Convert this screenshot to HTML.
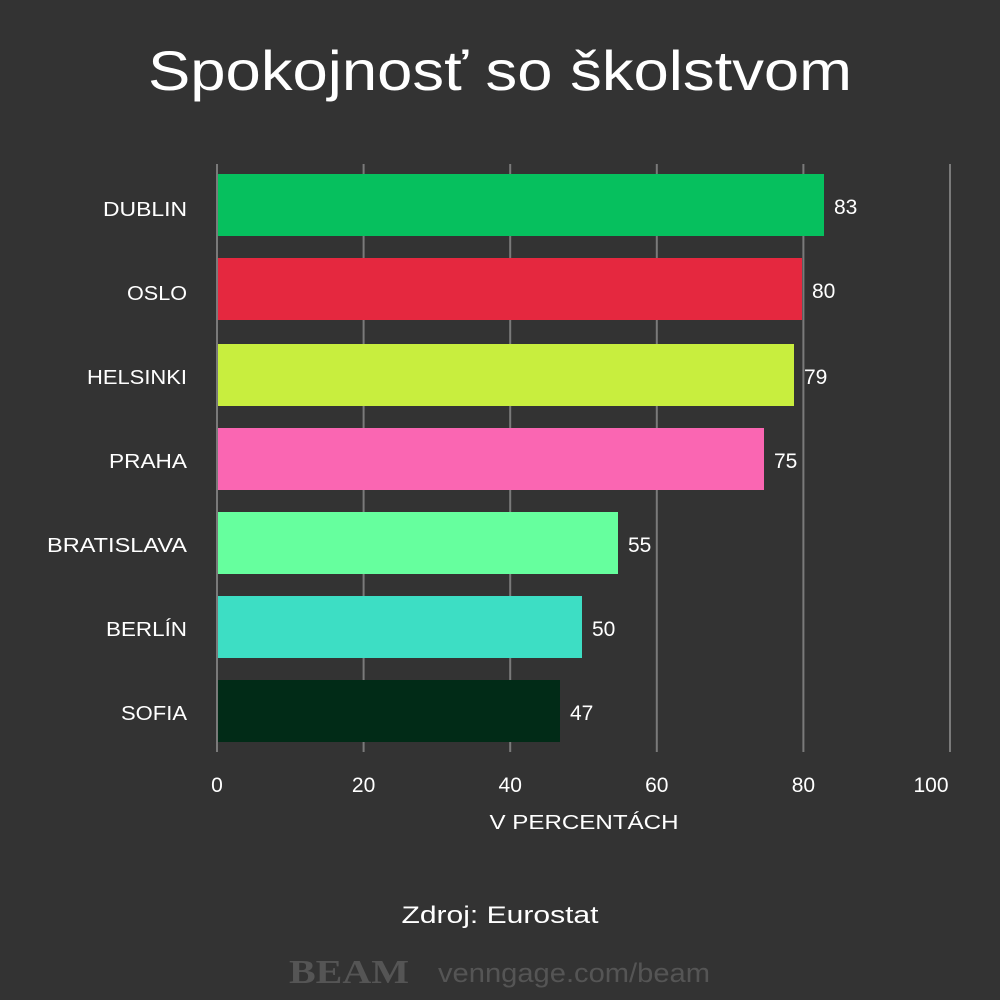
<!DOCTYPE html>
<html><head><meta charset="utf-8"><style>
html,body{margin:0;padding:0;background:#333333;}
svg{display:block;font-family:"Liberation Sans","DejaVu Sans",sans-serif;}
</style></head><body>
<svg width="1000" height="1000" viewBox="0 0 1000 1000" xmlns="http://www.w3.org/2000/svg">
<rect width="1000" height="1000" fill="#333333"/>
<text x="148" y="90" font-size="56" fill="#ffffff" textLength="704" lengthAdjust="spacingAndGlyphs">Spokojnosť so školstvom</text>
<g stroke="#7a7a7a" stroke-width="2">
<line x1="217" y1="164" x2="217" y2="752"/>
<line x1="363.6" y1="164" x2="363.6" y2="752"/>
<line x1="510.2" y1="164" x2="510.2" y2="752"/>
<line x1="656.8" y1="164" x2="656.8" y2="752"/>
<line x1="803.4" y1="164" x2="803.4" y2="752"/>
<line x1="950" y1="164" x2="950" y2="752"/>
</g>
<g>
<rect x="218" y="174" width="606" height="62" fill="#06c05e"/>
<rect x="218" y="258" width="584" height="62" fill="#e5283f"/>
<rect x="218" y="344" width="576" height="62" fill="#c8ee3e"/>
<rect x="218" y="428" width="546" height="62" fill="#fa66b2"/>
<rect x="218" y="512" width="400" height="62" fill="#66ff9e"/>
<rect x="218" y="596" width="364" height="62" fill="#3ddec4"/>
<rect x="218" y="680" width="342" height="62" fill="#012b17"/>
</g>
<g fill="#ffffff" font-size="20">
<text x="103" y="216" textLength="84" lengthAdjust="spacingAndGlyphs">DUBLIN</text>
<text x="127" y="300" textLength="60" lengthAdjust="spacingAndGlyphs">OSLO</text>
<text x="87" y="384" textLength="100" lengthAdjust="spacingAndGlyphs">HELSINKI</text>
<text x="109" y="468" textLength="78" lengthAdjust="spacingAndGlyphs">PRAHA</text>
<text x="47" y="552" textLength="140" lengthAdjust="spacingAndGlyphs">BRATISLAVA</text>
<text x="106" y="636" textLength="81" lengthAdjust="spacingAndGlyphs">BERLÍN</text>
<text x="121" y="720" textLength="66" lengthAdjust="spacingAndGlyphs">SOFIA</text>
</g>
<g fill="#ffffff" font-size="21">
<text x="834" y="214">83</text>
<text x="812" y="298">80</text>
<text x="804" y="384">79</text>
<text x="774" y="468">75</text>
<text x="628" y="552">55</text>
<text x="592" y="636">50</text>
<text x="570" y="720">47</text>
</g>
<g fill="#ffffff" font-size="21" text-anchor="middle">
<text x="217" y="792">0</text>
<text x="363.6" y="792">20</text>
<text x="510.2" y="792">40</text>
<text x="656.8" y="792">60</text>
<text x="803.4" y="792">80</text>
<text x="931" y="792">100</text>
<text x="584" y="829" font-size="20" textLength="189" lengthAdjust="spacingAndGlyphs">V PERCENTÁCH</text>
<text x="500" y="923" font-size="24" textLength="197" lengthAdjust="spacingAndGlyphs">Zdroj: Eurostat</text>
</g>
<text x="289" y="983" font-size="34" font-weight="bold" fill="#555555" font-family="Liberation Serif, serif" textLength="120" lengthAdjust="spacingAndGlyphs">BEAM</text>
<text x="438" y="982" font-size="27" fill="#555555" textLength="272" lengthAdjust="spacingAndGlyphs">venngage.com/beam</text>
</svg>
</body></html>
